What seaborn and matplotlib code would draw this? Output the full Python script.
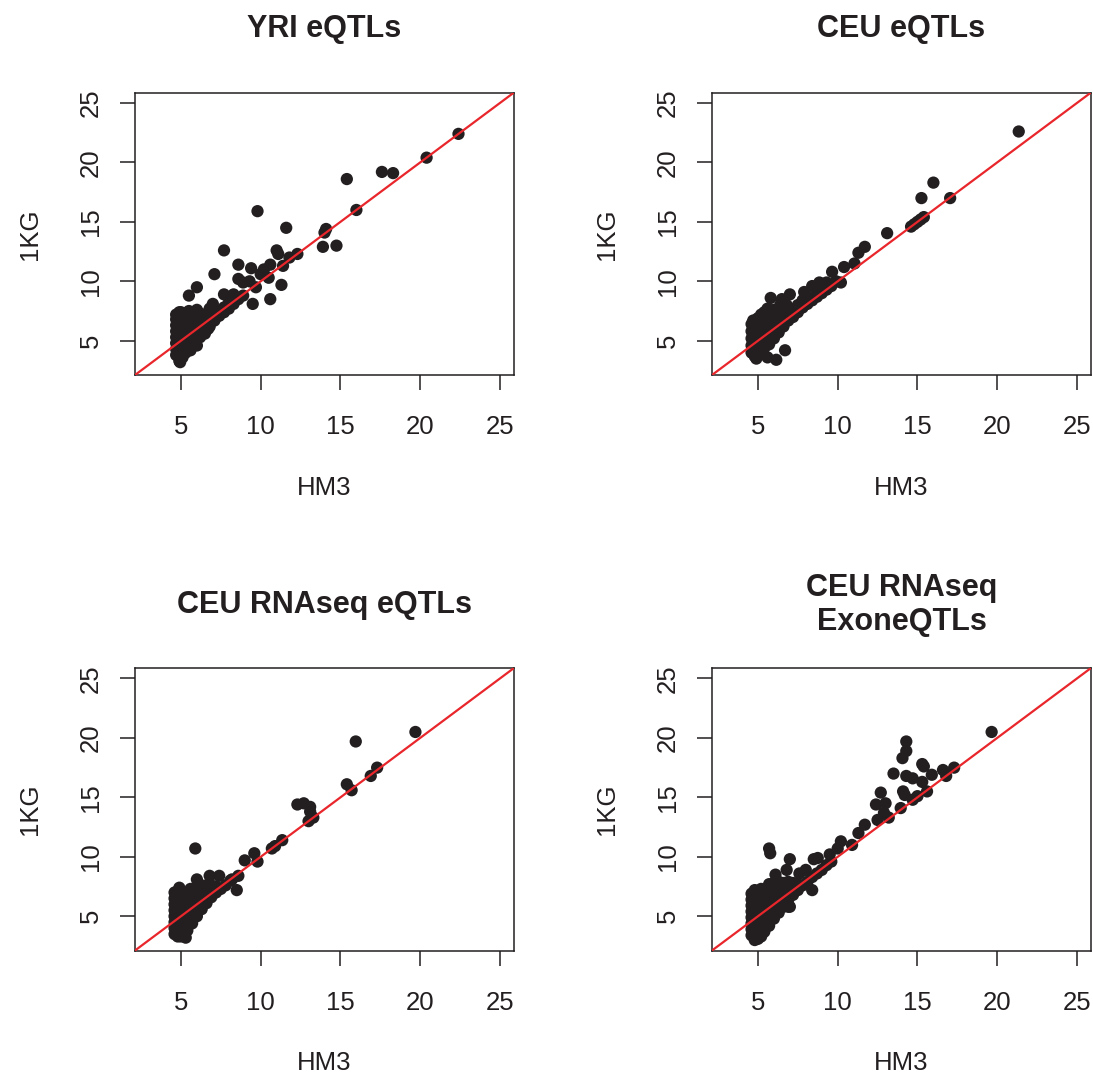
import pandas as pd
import seaborn as sns
import matplotlib.pyplot as plt


# --- Data (HM3, 1KG) pairs ---
yri_pts = [
    (4.7, 3.8), (4.7, 4.3), (4.7, 4.8), (4.7, 5.3), (4.7, 5.8), (4.7, 6.3), (4.7, 6.8), (4.7, 7.2),
    (4.9, 3.3), (4.9, 3.9), (4.9, 4.4), (4.9, 4.9), (4.9, 5.4), (4.9, 5.9), (4.9, 6.4), (4.9, 6.9), (4.9, 7.4),
    (5.1, 3.6), (5.1, 4.1), (5.1, 4.6), (5.1, 5.1), (5.1, 5.6), (5.1, 6.1), (5.1, 6.6), (5.1, 7.1),
    (5.3, 4.0), (5.3, 4.5), (5.3, 5.0), (5.3, 5.5), (5.3, 6.0), (5.3, 6.5), (5.3, 7.0),
    (5.6, 4.2), (5.6, 4.9), (5.6, 5.4), (5.6, 5.9), (5.6, 6.4), (5.6, 6.9), (5.5, 7.5),
    (5.9, 4.8), (5.9, 5.3), (5.9, 5.8), (5.9, 6.3), (5.9, 6.8), (6.0, 7.6), (6.0, 4.6),
    (6.2, 5.3), (6.2, 5.8), (6.2, 6.3), (6.2, 6.8), (6.2, 7.3),
    (6.5, 5.6), (6.5, 6.1), (6.5, 6.6), (6.5, 7.1), (6.7, 6.0),
    (6.8, 6.2), (6.8, 6.7), (6.8, 7.2), (6.8, 7.7),
    (7.1, 6.7), (7.1, 7.2), (7.1, 7.6), (7.0, 8.1),
    (7.4, 7.1), (7.4, 7.5), (7.7, 7.4), (7.7, 7.8), (8.0, 7.7), (8.0, 8.2),
    (8.3, 8.1), (8.3, 8.5), (8.6, 8.5), (8.9, 8.8), (5.0, 7.4), (4.95, 3.2),
    (5.5, 8.8), (6.0, 9.5), (7.7, 8.9), (8.3, 8.9), (7.1, 10.6), (7.7, 12.6),
    (8.6, 10.2), (8.9, 9.9), (9.3, 10.0), (8.6, 11.4), (9.4, 11.1), (9.5, 8.1),
    (9.7, 9.5), (10.0, 10.6), (10.2, 11.0), (10.5, 10.3), (10.6, 11.4), (10.6, 8.5),
    (9.8, 15.9), (11.0, 12.6), (11.1, 12.3), (11.3, 9.7), (11.4, 11.3), (11.6, 14.5),
    (11.8, 12.0), (12.3, 12.3), (13.9, 12.9), (14.0, 14.1), (14.1, 14.4), (14.75, 13.0),
    (15.4, 18.6), (16.0, 16.0), (17.6, 19.2), (18.3, 19.1), (20.4, 20.4), (22.4, 22.4),
]

ceu_pts = [
    (4.6, 4.0), (4.6, 4.6), (4.6, 5.2), (4.6, 5.8), (4.6, 6.4), (4.7, 6.7),
    (4.8, 3.7), (4.8, 4.3), (4.8, 4.9), (4.8, 5.5), (4.8, 6.1), (4.8, 6.7),
    (5.0, 3.9), (5.0, 4.5), (5.0, 5.1), (5.0, 5.7), (5.0, 6.3), (5.0, 6.9),
    (5.2, 4.2), (5.2, 4.8), (5.2, 5.4), (5.2, 6.0), (5.2, 6.6), (5.2, 7.2),
    (5.4, 4.4), (5.4, 5.0), (5.4, 5.6), (5.4, 6.2), (5.4, 6.8), (5.4, 7.4),
    (5.7, 4.7), (5.7, 5.3), (5.7, 5.9), (5.7, 6.5), (5.7, 7.1), (5.6, 7.7),
    (6.0, 5.2), (6.0, 5.8), (6.0, 6.4), (6.0, 7.0), (6.0, 7.6),
    (6.3, 5.7), (6.3, 6.3), (6.3, 6.9), (6.3, 7.5), (6.4, 8.0),
    (6.6, 6.2), (6.6, 6.8), (6.6, 7.4), (6.8, 8.0),
    (6.9, 6.7), (6.9, 7.3), (7.2, 7.0), (7.2, 7.6), (7.5, 7.4), (7.5, 8.0),
    (7.8, 7.8), (7.8, 8.4), (8.1, 8.1), (8.1, 8.7), (8.4, 8.4), (8.7, 8.7),
    (8.7, 9.2), (9.0, 9.0), (9.3, 9.3), (9.6, 9.6), (9.3, 9.9),
    (5.8, 8.6), (6.5, 8.5), (7.0, 8.9), (7.9, 9.1), (8.4, 9.6), (8.85, 9.9),
    (9.65, 10.8), (9.9, 10.0), (10.2, 9.9), (10.4, 11.2), (11.05, 11.5), (11.3, 12.4),
    (11.7, 12.9), (13.1, 14.05), (14.6, 14.6), (14.8, 14.8), (15.0, 15.0), (15.2, 15.2),
    (15.4, 15.4), (15.25, 17.0), (16.0, 18.3), (17.05, 17.0), (21.35, 22.6),
    (6.7, 4.2), (6.15, 3.4), (5.6, 3.6), (4.9, 3.5),
]

rna_pts = [
    (4.6, 3.5), (4.6, 4.0), (4.6, 4.5), (4.6, 5.0), (4.6, 5.5), (4.6, 6.0), (4.6, 6.5), (4.6, 7.0),
    (4.8, 3.3), (4.8, 3.8), (4.8, 4.3), (4.8, 4.8), (4.8, 5.3), (4.8, 5.8), (4.8, 6.3), (4.8, 6.8), (4.9, 7.4),
    (5.0, 3.3), (5.0, 3.8), (5.0, 4.3), (5.0, 4.8), (5.0, 5.3), (5.0, 5.8), (5.0, 6.3), (5.0, 6.8),
    (5.2, 3.4), (5.2, 3.9), (5.2, 4.4), (5.2, 4.9), (5.2, 5.4), (5.2, 5.9), (5.2, 6.4), (5.2, 6.9),
    (5.4, 3.8), (5.4, 4.3), (5.4, 4.8), (5.4, 5.3), (5.4, 5.8), (5.4, 6.3), (5.4, 6.8),
    (5.7, 4.4), (5.7, 4.9), (5.7, 5.4), (5.7, 5.9), (5.7, 6.4), (5.7, 6.9), (5.6, 7.3),
    (6.0, 5.0), (6.0, 5.5), (6.0, 6.0), (6.0, 6.5), (6.0, 7.0), (6.0, 7.5), (6.0, 8.1),
    (6.3, 5.6), (6.3, 6.1), (6.3, 6.6), (6.3, 7.1), (6.3, 7.6),
    (6.6, 6.1), (6.6, 6.6), (6.6, 7.1), (6.6, 7.6), (6.8, 8.4),
    (6.9, 6.6), (6.9, 7.1), (6.9, 7.6), (7.2, 7.0), (7.2, 7.5), (7.4, 8.4),
    (7.5, 7.3), (7.8, 7.6), (8.1, 8.0), (8.2, 8.1), (8.6, 8.4), (8.5, 7.2),
    (5.3, 3.2), (5.9, 10.7),
    (9.0, 9.7), (9.6, 10.3), (9.8, 9.6), (10.7, 10.7), (10.9, 10.9), (11.35, 11.4),
    (12.3, 14.4), (12.7, 14.5), (13.1, 14.2), (13.1, 13.8), (13.0, 13.0), (13.3, 13.3),
    (15.4, 16.1), (15.7, 15.6), (15.96, 19.7), (16.9, 16.8), (17.3, 17.5), (19.7, 20.5),
]

exon_pts = [
    (4.6, 3.4), (4.6, 3.9), (4.6, 4.4), (4.6, 4.9), (4.6, 5.4), (4.6, 5.9), (4.6, 6.4), (4.6, 6.9),
    (4.8, 3.0), (4.8, 3.5), (4.8, 4.0), (4.8, 4.5), (4.8, 5.0), (4.8, 5.5), (4.8, 6.0), (4.8, 6.5), (4.8, 7.0), (4.8, 7.2),
    (5.0, 3.1), (5.0, 3.6), (5.0, 4.1), (5.0, 4.6), (5.0, 5.1), (5.0, 5.6), (5.0, 6.1), (5.0, 6.6), (5.0, 7.1),
    (5.2, 3.3), (5.2, 3.8), (5.2, 4.3), (5.2, 4.8), (5.2, 5.3), (5.2, 5.8), (5.2, 6.3), (5.2, 6.8), (5.2, 7.3),
    (5.4, 3.7), (5.4, 4.2), (5.4, 4.7), (5.4, 5.2), (5.4, 5.7), (5.4, 6.2), (5.4, 6.7), (5.4, 7.2),
    (5.7, 4.2), (5.7, 4.7), (5.7, 5.2), (5.7, 5.7), (5.7, 6.2), (5.7, 6.7), (5.7, 7.2), (5.7, 7.7),
    (6.0, 4.8), (6.0, 5.3), (6.0, 5.8), (6.0, 6.3), (6.0, 6.8), (6.0, 7.3), (6.0, 7.8),
    (6.3, 5.3), (6.3, 5.8), (6.3, 6.3), (6.3, 6.8), (6.3, 7.3), (6.3, 7.9),
    (6.6, 5.8), (6.6, 6.3), (6.6, 6.8), (6.6, 7.3), (6.6, 7.8), (6.9, 5.8),
    (6.9, 6.4), (6.9, 6.9), (6.9, 7.4), (6.9, 7.9), (7.2, 6.8), (7.2, 7.3), (7.2, 7.8),
    (7.5, 7.2), (7.5, 7.7), (7.8, 7.6), (8.1, 7.9), (8.4, 8.3), (8.7, 8.6), (9.0, 8.9),
    (9.3, 9.3), (9.6, 9.6), (7.0, 5.8), (8.4, 7.2),
    (5.7, 10.7), (5.77, 10.3), (7.0, 9.8), (6.8, 8.9), (6.1, 8.5), (7.6, 8.6), (8.0, 8.9),
    (8.5, 9.8), (8.75, 9.9), (9.5, 10.2), (10.0, 10.7), (10.2, 11.3), (10.9, 11.0),
    (11.3, 12.0), (11.7, 12.7), (12.5, 13.1), (12.9, 13.7), (12.4, 14.4), (13.0, 14.5),
    (12.7, 15.4), (13.2, 13.3), (13.95, 14.1), (14.1, 15.5), (14.2, 15.2), (14.7, 14.8),
    (15.0, 15.1), (15.3, 16.3), (15.6, 15.5), (13.5, 17.0), (14.3, 16.8), (14.7, 16.6),
    (15.3, 17.8), (15.4, 17.6), (15.9, 16.9), (16.6, 17.3), (16.8, 16.8), (17.3, 17.5),
    (14.06, 18.3), (14.3, 18.9), (14.3, 19.7), (19.65, 20.5),
]

titles = ["YRI eQTLs", "CEU eQTLs", "CEU RNAseq eQTLs", "CEU RNAseq\nExoneQTLs"]
panels = [yri_pts, ceu_pts, rna_pts, exon_pts]
ticks = [5, 10, 15, 20, 25]
lims = (2.12, 25.88)

INK = "#231f20"
RED = "#e8262b"

sns.set_style("white")
plt.rcParams["font.family"] = ["Liberation Sans", "DejaVu Sans"]

fig = plt.figure(figsize=(10.93, 10.75), dpi=100)
W, H = 1093, 1075
boxes = [(135, 92.5), (712, 92.5), (135, 668), (712, 668)]
bw, bh = 379, 282.5

for (left, top), title, pts in zip(boxes, titles, panels):
    ax = fig.add_axes([left / W, 1 - (top + bh) / H, bw / W, bh / H])
    df = pd.DataFrame(pts, columns=["HM3", "1KG"])
    sns.scatterplot(data=df, x="HM3", y="1KG", ax=ax, s=78, color=INK,
                    edgecolor="none", linewidth=0, zorder=2)
    ax.plot(lims, lims, color=RED, lw=1.6, zorder=3, clip_on=True)
    ax.set_xlim(lims)
    ax.set_ylim(lims)
    ax.set_xticks(ticks)
    ax.set_yticks(ticks)
    for sp in ax.spines.values():
        sp.set_color(INK)
        sp.set_linewidth(1.1)
    ax.tick_params(axis="both", direction="out", length=11, width=1.1,
                   color=INK, labelcolor=INK, labelsize=18.5)
    ax.tick_params(axis="x", pad=18, bottom=True)
    ax.tick_params(axis="y", pad=12, left=True, labelrotation=90)
    for lab in ax.get_yticklabels():
        lab.set_va("center")
    ax.set_xlabel("HM3", fontsize=18.5, color=INK)
    ax.set_ylabel("1KG", fontsize=18.5, color=INK)
    ax.xaxis.set_label_coords(0.5, -113 / bh)
    ax.yaxis.set_label_coords(-105 / bw, 0.5)
    ax.xaxis.label.set_va("center")
    ax.yaxis.label.set_va("center")
    ax.text(0.5, 1 + 63 / bh, title, transform=ax.transAxes, ha="center",
            va="center", fontsize=22, fontweight="bold", color=INK,
            linespacing=1.2)

plt.savefig("out.png", dpi=100)
